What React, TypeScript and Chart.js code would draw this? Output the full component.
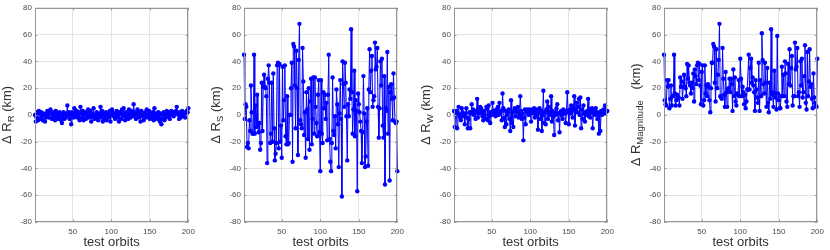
import React, { useEffect, useRef } from "react";
import { Chart, registerables } from "chart.js";

Chart.register(...registerables);

// ---------- data ----------
const ORBITS: number[] = Array.from({ length: 200 }, (_, i) => i + 1);
const X_TICKS = [50, 100, 150, 200];
const Y_TICKS = [-80, -60, -40, -20, 0, 20, 40, 60, 80];
const X_TITLE = "test orbits";

const dR_R = [
  0, -5, -2, 2, -4, 3, 1, -3, 2, -1, -4, 1, 0, -5, -2, 1, 3, -1, -2, 2,
  4, 1, -3, 0, 2, -1, -4, 3, -2, 1, -3, -1, 2, 0, -4, -6, -1, 2, -3, 0,
  -2, 1, 7, 0, 2, -3, 1, -7, 2, 0, -2, 5, 1, -1, 3, -2, 0, 2, -4, 6,
  1, -2, 3, -4, 0, 2, -3, 1, -1, 4, -2, 0, 3, -5, 1, -1, 5, -3, 0, -2,
  2, -1, -4, 1, 0, 6, -2, 3, -5, 1, 0, -3, 2, -4, 1, 0, -2, 3, -5, 0,
  4, 2, -1, 0, -3, 1, 3, -2, 0, -5, 2, 1, -3, 4, 0, 5, -1, -4, 2, -2,
  1, -3, 4, 0, -2, 3, 1, -1, 8, 2, 0, -3, 1, 4, -2, 0, 2, -5, 3, -1,
  0, -4, 1, 2, -2, 4, -1, 0, 3, -3, 1, -2, 0, 2, -4, 5, -1, 1, -3, 0,
  2, -2, -5, 1, -7, -3, 0, 2, -4, 1, -2, 3, 0, -1, 2, -3, 1, 3, 0, 2,
  -1, 2, 1, 3, 6, 2, 0, -3, 2, -2, 1, 3, -1, 2, 0, -2, 1, 3, 2, 5,
];

const dR_S = [
  45, -3, 8, 6, -24, -21, -25, -4, -12, 22, 2, -14, -14, 45, -14, 7, -9, 15, -8, -13,
  -6, -26, -21, 24, -12, 21, 30, 21, 20, 14, -36, 27, 37, 24, -21, -14, 24, -20, 31, -10,
  -34, -29, -21, 37, 39, -25, 38, -20, -8, -32, 36, -4, 11, 37, -16, -22, 14, -22, -21, 0,
  0, 20, 39, -35, 53, 51, 22, -10, 48, 20, -30, 41, 68, -4, -7, -10, 50, 25, -15, 2,
  -32, 17, 4, -18, 20, -26, 10, 27, -22, -3, 28, -14, 28, 6, -6, -16, 15, 26, -13, -42,
  26, -14, -21, 17, 5, 15, -3, 9, -19, 15, 45, -18, -35, -42, -21, 28, -12, -15, -1, -25,
  19, 8, -7, -39, 1, 26, -3, -61, 40, 23, 6, 39, 24, -1, -34, 8, -1, 19, 12, 64,
  17, -14, 4, 33, -16, 11, 3, -57, 16, 8, 2, -5, -12, -36, -13, 29, 1, -39, -31, -5,
  5, -38, 19, 49, 17, 33, 44, 6, 11, 14, 54, 34, 36, 50, 6, -17, 5, 40, 22, 42,
  -8, -17, 29, -52, 5, 3, 47, -14, 21, -49, 17, 23, 12, -4, 31, 13, -5, -6, -5, -42,
];

const dR_W = [
  3, -9, 2, 3, -10, 1, 6, 0, -2, -4, 5, 2, -1, 0, -7, 1, 5, -2, -10, -3,
  2, -10, 1, 8, 2, 4, 0, 3, -3, 2, 12, -2, 3, 1, 6, 5, 2, -1, -4, 3,
  0, -3, 6, 5, -4, 7, -1, -6, 2, 0, 9, 3, 1, 2, -1, 4, 2, 6, 0, 9,
  1, 3, -4, 16, 5, -2, -9, 3, -7, 0, 2, 4, -3, -12, 11, -6, 2, -9, 3, 5,
  -1, 4, 2, 6, -2, 0, 14, 3, -3, 1, -19, -2, 4, -7, 3, 4, 2, 0, 4, 1,
  -5, 3, 4, 1, 5, -2, 3, 4, 0, -11, 2, 5, -3, 3, -12, 0, 18, -6, 2, -7,
  4, 10, -3, 6, 2, 0, 14, -5, 3, -1, -15, 2, 0, 5, 8, -4, 1, -13, 2, 3,
  0, -3, 4, 2, 1, -6, 3, 17, 2, -7, 4, 1, 7, 3, -2, 5, 14, -8, 4, 9,
  2, 6, 12, 0, 13, -10, 4, -3, 7, 1, -5, 2, 0, 3, 12, -1, 4, -2, 2, 5,
  -10, 1, 3, 0, 5, 2, -3, 1, -14, 2, -12, 3, 0, 2, 4, 1, 7, 2, 3, 3,
];

const dR_Mag = [
  45, 11, 8, 7, 26, 21, 26, 5, 12, 22, 7, 14, 14, 45, 16, 7, 11, 15, 13, 13,
  7, 28, 21, 25, 12, 21, 30, 21, 20, 14, 38, 27, 37, 24, 22, 16, 24, 20, 31, 10,
  34, 29, 23, 37, 39, 26, 38, 22, 8, 32, 37, 7, 11, 37, 16, 22, 14, 23, 21, 11,
  2, 20, 39, 39, 53, 51, 24, 10, 49, 20, 30, 41, 68, 14, 13, 12, 50, 27, 15, 6,
  32, 17, 6, 19, 20, 27, 17, 27, 23, 3, 34, 14, 28, 10, 7, 16, 15, 26, 14, 42,
  27, 14, 21, 17, 8, 15, 5, 10, 19, 19, 45, 19, 35, 42, 24, 28, 22, 17, 3, 26,
  19, 13, 9, 39, 3, 26, 14, 61, 41, 23, 16, 39, 24, 6, 35, 9, 2, 24, 12, 64,
  17, 15, 6, 33, 16, 13, 4, 59, 16, 11, 5, 5, 14, 36, 14, 30, 14, 40, 31, 10,
  6, 38, 23, 49, 22, 35, 44, 7, 14, 14, 54, 34, 36, 50, 14, 17, 6, 40, 22, 42,
  13, 17, 29, 52, 9, 4, 47, 14, 25, 49, 21, 23, 12, 5, 31, 13, 9, 7, 6, 42,
];

type Part = { text: string; sub?: boolean };

const LABEL_R: Part[] = [{ text: "Δ R" }, { text: "R", sub: true }, { text: " (km)" }];
const LABEL_S: Part[] = [{ text: "Δ R" }, { text: "S", sub: true }, { text: " (km)" }];
const LABEL_W: Part[] = [{ text: "Δ R" }, { text: "W", sub: true }, { text: " (km)" }];
const LABEL_M: Part[] = [{ text: "Δ R" }, { text: "Magnitude", sub: true }, { text: "   (km)" }];

// ---------- styling ----------
const FONT = '"Liberation Sans", Arial, Helvetica, sans-serif';
const BLUE = "#0000ff";
const TEXT = "#333333";
const TICK_TEXT = "#4a4a4a";
const GRID = "#e4e4e4";
const FRAME = "#959595";

const CANVAS_W = 200;
const CANVAS_H = 250;

function makeFramePlugin(label: Part[]) {
  return {
    id: "frameAndTitles",
    afterDraw(chart: any) {
      const { ctx, chartArea } = chart;
      const { left, right, top, bottom } = chartArea;
      const xs = chart.scales.x;
      const ys = chart.scales.y;
      ctx.save();
      // axes box
      ctx.strokeStyle = FRAME;
      ctx.lineWidth = 1;
      ctx.strokeRect(Math.round(left) + 0.5, Math.round(top) + 0.5, Math.round(right - left) - 1, Math.round(bottom - top) - 1);
      // inward tick marks
      ctx.beginPath();
      X_TICKS.forEach((v) => {
        const px = Math.round(xs.getPixelForValue(v)) + 0.5;
        ctx.moveTo(px, bottom);
        ctx.lineTo(px, bottom - 2.5);
        ctx.moveTo(px, top);
        ctx.lineTo(px, top + 2.5);
      });
      Y_TICKS.forEach((v) => {
        const py = Math.round(ys.getPixelForValue(v)) + 0.5;
        ctx.moveTo(left, py);
        ctx.lineTo(left + 2.5, py);
        ctx.moveTo(right, py);
        ctx.lineTo(right - 2.5, py);
      });
      ctx.stroke();

      // x title
      ctx.fillStyle = TEXT;
      ctx.font = `13px ${FONT}`;
      ctx.textAlign = "center";
      ctx.textBaseline = "alphabetic";
      ctx.fillText(X_TITLE, (left + right) / 2, 246);

      // y title with subscript (rotated)
      const mainFont = `13px ${FONT}`;
      const subFont = `9.5px ${FONT}`;
      const widths = label.map((p) => {
        ctx.font = p.sub ? subFont : mainFont;
        return ctx.measureText(p.text).width;
      });
      const total = widths.reduce((a, b) => a + b, 0);
      ctx.translate(left - 24.5, (top + bottom) / 2);
      ctx.rotate(-Math.PI / 2);
      ctx.textAlign = "left";
      let x = -total / 2;
      label.forEach((p, i) => {
        ctx.font = p.sub ? subFont : mainFont;
        ctx.fillText(p.text, x, p.sub ? 3 : 0);
        x += widths[i];
      });
      ctx.restore();
    },
  };
}

function Panel({ left, values, label }: { left: number; values: number[]; label: Part[] }) {
  const ref = useRef<HTMLCanvasElement | null>(null);
  useEffect(() => {
    if (!ref.current) return;
    const chart = new Chart(ref.current, {
      type: "line",
      data: {
        datasets: [
          {
            data: values.map((v, i) => ({ x: ORBITS[i], y: v })),
            borderColor: BLUE,
            backgroundColor: BLUE,
            borderWidth: 1,
            pointRadius: 2.2,
            pointBorderWidth: 0,
            pointBackgroundColor: BLUE,
            tension: 0,
            clip: false as any,
          },
        ],
      },
      options: {
        responsive: false,
        animation: false,
        devicePixelRatio: 1,
        layout: { padding: { top: 4, right: 5, left: 0, bottom: 0 } },
        plugins: { legend: { display: false }, tooltip: { enabled: false } },
        scales: {
          x: {
            type: "linear",
            min: 1,
            max: 200,
            afterBuildTicks: (s: any) => {
              s.ticks = X_TICKS.map((v) => ({ value: v }));
            },
            afterFit: (s: any) => {
              s.height = 28;
            },
            grid: { color: GRID, drawTicks: false, lineWidth: 1 },
            border: { display: false },
            ticks: {
              autoSkip: false,
              maxRotation: 0,
              padding: 5,
              color: TICK_TEXT,
              font: { family: FONT, size: 8 },
            },
          },
          y: {
            type: "linear",
            min: -80,
            max: 80,
            afterBuildTicks: (s: any) => {
              s.ticks = Y_TICKS.map((v) => ({ value: v }));
            },
            afterFit: (s: any) => {
              s.width = 35;
            },
            grid: { color: GRID, drawTicks: false, lineWidth: 1 },
            border: { display: false },
            ticks: {
              autoSkip: false,
              padding: 3,
              color: TICK_TEXT,
              font: { family: FONT, size: 8 },
            },
          },
        },
      },
      plugins: [makeFramePlugin(label)],
    } as any);
    return () => chart.destroy();
  }, [values, label]);
  return (
    <canvas
      ref={ref}
      width={CANVAS_W}
      height={CANVAS_H}
      style={{ position: "absolute", left, top: 0, width: CANVAS_W, height: CANVAS_H }}
    />
  );
}

export default function App() {
  return (
    <div style={{ position: "absolute", left: 0, top: 0, width: 830, height: 250, background: "#fff", overflow: "hidden" }}>
      <Panel left={0} values={dR_R} label={LABEL_R} />
      <Panel left={209} values={dR_S} label={LABEL_S} />
      <Panel left={419} values={dR_W} label={LABEL_W} />
      <Panel left={629} values={dR_Mag} label={LABEL_M} />
    </div>
  );
}
